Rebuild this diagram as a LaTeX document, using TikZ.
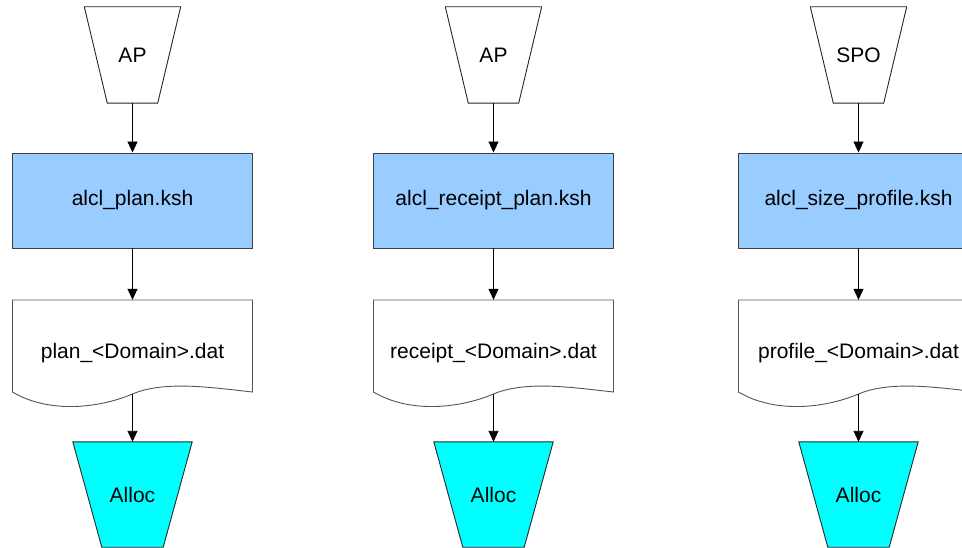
\documentclass[tikz,border=0pt]{standalone}
\usepackage{fontspec}
\setmainfont{Liberation Sans}
\usetikzlibrary{arrows.meta,backgrounds,calc}
\definecolor{boxblue}{HTML}{99CCFF}
\definecolor{alloccyan}{HTML}{00FFFF}
\definecolor{edgegray}{HTML}{404040}
\definecolor{docgray}{HTML}{555555}
\begin{document}
\begin{tikzpicture}[x=1pt,y=-1pt,
  every node/.style={font=\fontsize{21}{25}\selectfont, inner sep=0pt, text=black},
  srcbox/.style={minimum width=96pt, minimum height=96pt},
  kshbox/.style={draw=edgegray, fill=boxblue, line width=0.9pt, minimum width=240pt, minimum height=95pt},
  docbox/.style={minimum width=240pt, minimum height=94pt},
  allocbox/.style={minimum width=119pt, minimum height=105pt},
  outline/.style={draw=black!85, line width=0.9pt},
  docline/.style={draw=docgray, line width=0.9pt, fill=white},
  flow/.style={-{Triangle[length=11pt,width=10pt]}, line width=0.9pt, draw=black}
]
\useasboundingbox (0,0) rectangle (962,548);
\clip (0,0) rectangle (962,548);
\foreach \i/\c/\src/\ksh/\dat in {
  1/132.5/AP/alcl\_plan.ksh/plan\_<Domain>.dat,
  2/493.5/AP/alcl\_receipt\_plan.ksh/receipt\_<Domain>.dat,
  3/858.5/SPO/alcl\_size\_profile.ksh/profile\_<Domain>.dat}{
  \node[srcbox] (src\i) at (\c,55) {\src};
  \node[kshbox] (ksh\i) at (\c,200.5) {\ksh};
  \node[docbox] (dat\i) at (\c,347) {};
  \node (datlbl\i) at (\c,353) {\dat};
  \node[allocbox] (alloc\i) at (\c,494.5) {Alloc};
  \coordinate (wave\i) at (\c,394);
  \begin{scope}[on background layer]
    \clip (0,0) rectangle (962,548);
    \path[outline, fill=white] (src\i.north west) -- (src\i.north east)
      -- ($(src\i.south east)+(-23,0)$) -- ($(src\i.south west)+(23,0)$) -- cycle;
    \path[outline, fill=alloccyan] (alloc\i.north west) -- (alloc\i.north east)
      -- ($(alloc\i.south east)+(-29,0)$) -- ($(alloc\i.south west)+(29,0)$) -- cycle;
    \begin{scope}[shift={(dat\i.center)}]
      \path[docline] (-120,-47) -- (120,-47) -- (120,45)
        .. controls (82,41) and (33,33) .. (0,47)
        .. controls (-33,61) and (-83,67) .. (-120,45) -- cycle;
    \end{scope}
  \end{scope}
  \draw[flow] (src\i) -- (ksh\i);
  \draw[flow] (ksh\i) -- (dat\i);
  \draw[flow] (wave\i) -- (alloc\i.north);
}
\end{tikzpicture}
\end{document}
